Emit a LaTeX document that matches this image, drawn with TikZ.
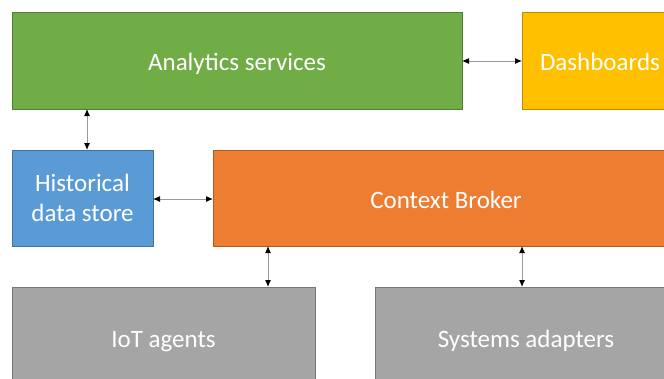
\documentclass[tikz,border=0pt]{standalone}
\usepackage{fontspec}
\setmainfont{Carlito}
\usetikzlibrary{arrows.meta}
\definecolor{gfill}{HTML}{70AD47}\definecolor{gdraw}{HTML}{507E32}
\definecolor{yfill}{HTML}{FFC000}\definecolor{ydraw}{HTML}{BC8C00}
\definecolor{bfill}{HTML}{5B9BD5}\definecolor{bdraw}{HTML}{41719C}
\definecolor{ofill}{HTML}{ED7D31}\definecolor{odraw}{HTML}{AE5A21}
\definecolor{afill}{HTML}{A5A5A5}\definecolor{adraw}{HTML}{787878}
\tikzset{
  box/.style={rectangle, anchor=north west, inner sep=0pt, outer sep=0pt, line width=0.8pt,
    text=white, align=center, font=\fontsize{25}{30}\selectfont, text depth=0pt},
  onebox/.style={box, text height=20pt},
  link/.style={draw=gray!80, line width=1pt, {Latex[length=7pt,width=6pt,black]}-{Latex[length=7pt,width=6pt,black]}}
}
\begin{document}
\begin{tikzpicture}[x=1pt,y=-1pt]
\useasboundingbox (0,0) rectangle (664,378);
\clip (0,0) rectangle (664,378);
\node[onebox, fill=gfill, draw=gdraw, minimum width=450pt, minimum height=97pt] (ana) at (12,12) {Analytics services};
\node[onebox, fill=yfill, draw=ydraw, minimum width=156pt, minimum height=97pt] (dash) at (522,12) {Dashboards};
\node[box, text depth=-4pt, fill=bfill, draw=bdraw, minimum width=141pt, minimum height=96pt] (hist) at (12,150) {Historical\\data store};
\node[onebox, fill=ofill, draw=odraw, minimum width=466pt, minimum height=96pt] (cb) at (213,150) {Context Broker};
\node[onebox, fill=afill, draw=adraw, minimum width=303pt, minimum height=100pt] (iot) at (12,287) {IoT agents};
\node[onebox, fill=afill, draw=adraw, minimum width=302pt, minimum height=100pt] (sys) at (375,287) {Systems adapters};
\coordinate (a1) at (87,0);
\coordinate (y1) at (0,61);
\coordinate (y2) at (0,199);
\coordinate (c1) at (268,0);
\coordinate (c2) at (522,0);
\draw[link] (ana.south -| a1) -- (hist.north -| a1);
\draw[link] (ana.east |- y1) -- (dash.west |- y1);
\draw[link] (hist.east |- y2) -- (cb.west |- y2);
\draw[link] (cb.south -| c1) -- (iot.north -| c1);
\draw[link] (cb.south -| c2) -- (sys.north -| c2);
\end{tikzpicture}
\end{document}
